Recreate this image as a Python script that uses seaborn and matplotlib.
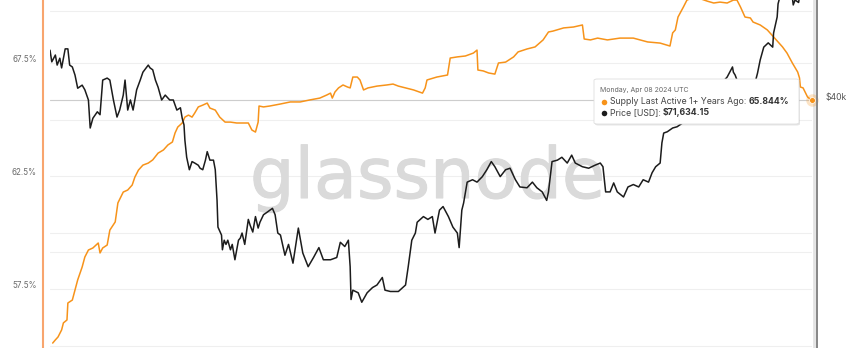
import numpy as np
import pandas as pd
import matplotlib
matplotlib.use("Agg")
import matplotlib.pyplot as plt
import matplotlib.transforms as mtransforms
import matplotlib.patheffects as pe
from matplotlib.patches import FancyBboxPatch
from matplotlib.lines import Line2D
from matplotlib.text import Annotation
import seaborn as sns

# ---------------- data ----------------
start_date = "2021-12-07"

price_days = [0, 2, 6, 8, 11, 13, 17, 20, 22, 25,
              28, 31, 36, 39, 43, 45, 48, 53, 56, 59,
              64, 67, 71, 75, 78, 82, 84, 87, 90, 93,
              97, 101, 104, 110, 112, 115, 118, 121, 125, 129,
              134, 138, 142, 146, 148, 150, 151, 153, 156, 159,
              162, 166, 168, 171, 174, 176, 179, 183, 185, 187,
              188, 192, 193, 195, 197, 199, 202, 204, 207, 211,
              213, 215, 218, 222, 224, 227, 230, 233, 235, 239,
              242, 249, 252, 255, 258, 263, 267, 272, 278, 283,
              289, 295, 301, 306, 314, 321, 325, 330, 334, 336,
              337, 339, 345, 349, 355, 361, 366, 372, 375, 381,
              390, 398, 401, 405, 409, 411, 418, 423, 428, 431,
              436, 440, 446, 451, 456, 458, 461, 463, 467, 473,
              478, 484, 489, 494, 498, 504, 510, 515, 521, 526,
              534, 540, 545, 551, 556, 558, 562, 568, 573, 579,
              584, 588, 596, 603, 610, 616, 619, 622, 627, 631,
              635, 642, 647, 653, 659, 664, 670, 674, 678, 683,
              685, 687, 691, 697, 702, 708, 717, 728, 739, 748,
              755, 758, 764, 765, 767, 773, 778, 784, 790, 792,
              795, 799, 804, 809, 810, 814, 815, 819, 823, 828,
              832, 834, 838, 841, 846, 853]

price_k = [50.2, 47.6, 49.1, 46.9, 48.4, 46.3, 50.5, 50.5, 46.9, 46.5,
           44.8, 42.2, 42.8, 41.9, 40.0, 35.2, 36.8, 37.9, 37.4, 43.8,
           44.2, 43.8, 40.0, 37.0, 38.2, 40.9, 43.8, 38.2, 40.0, 38.2,
           41.9, 43.8, 45.4, 46.9, 46.3, 45.9, 43.8, 42.4, 40.0, 40.9,
           40.0, 40.0, 38.2, 38.6, 36.8, 35.7, 33.3, 30.8, 29.1, 30.2,
           30.0, 29.7, 29.3, 29.1, 30.4, 31.6, 30.4, 30.4, 29.1, 25.3,
           22.4, 21.6, 20.2, 21.1, 20.7, 21.1, 20.2, 20.7, 19.3, 21.1,
           21.3, 21.8, 20.7, 23.2, 22.6, 21.9, 23.5, 22.3, 22.9, 23.7,
           23.9, 24.4, 23.7, 21.8, 21.6, 19.7, 20.7, 19.0, 22.3, 19.9,
           18.7, 19.5, 20.4, 19.3, 19.3, 19.5, 20.9, 20.5, 21.1, 18.7,
           16.1, 16.8, 16.6, 15.9, 16.6, 17.0, 17.2, 17.8, 16.8, 16.7,
           16.7, 17.2, 18.7, 21.1, 21.8, 22.9, 23.5, 23.2, 23.5, 21.8,
           24.2, 24.6, 23.5, 22.4, 21.8, 20.4, 24.2, 25.0, 27.5, 27.8,
           27.5, 28.2, 29.1, 30.2, 29.5, 28.2, 29.1, 29.3, 27.8, 26.9,
           26.8, 27.5, 26.8, 26.3, 25.3, 26.3, 30.2, 30.4, 30.8, 30.0,
           31.1, 30.0, 29.5, 29.3, 29.7, 30.0, 29.5, 26.3, 26.3, 27.4,
           26.3, 25.7, 26.9, 27.2, 26.9, 27.8, 27.5, 28.7, 29.5, 30.0,
           32.9, 34.4, 34.6, 35.2, 35.4, 36.0, 37.4, 39.1, 40.9, 42.8,
           43.8, 44.4, 46.5, 45.4, 44.8, 41.9, 40.0, 42.2, 43.8, 45.2,
           48.0, 50.9, 51.9, 50.9, 54.3, 58.4, 62.0, 66.0, 69.0, 70.7,
           61.7, 63.1, 62.4, 67.6, 69.0, 71.63415]

supply_days = [3, 6, 9, 13, 15, 19, 20, 25, 28, 31,
               36, 39, 43, 48, 54, 56, 59, 64, 67, 73,
               76, 82, 87, 92, 95, 99, 104, 110, 115, 121,
               127, 132, 137, 140, 143, 148, 151, 155, 159, 162,
               166, 171, 176, 179, 185, 190, 196, 202, 209, 216,
               222, 226, 230, 233, 234, 239, 246, 258, 269, 280,
               291, 302, 310, 314, 316, 319, 323, 328, 333, 336,
               339, 344, 347, 351, 356, 366, 377, 384, 390, 398,
               407, 417, 420, 422, 433, 445, 448, 456, 465, 474,
               478, 479, 485, 491, 498, 502, 510, 519, 524, 534,
               543, 552, 558, 563, 575, 586, 596, 598, 605, 613,
               624, 638, 653, 669, 683, 694, 697, 700, 703, 709,
               713, 722, 736, 743, 750, 758, 765, 769, 773, 778,
               784, 787, 795, 803, 810, 815, 820, 825, 831, 837,
               839, 840, 843, 848, 853]

supply_pct = [55.13, 55.27, 55.40, 55.71, 56.02, 56.15, 56.90, 57.03, 57.47, 57.92,
              58.49, 58.93, 59.24, 59.33, 59.55, 59.11, 59.33, 59.46, 60.12, 60.48,
              61.32, 61.80, 61.89, 62.11, 62.46, 62.77, 62.99, 63.08, 63.22, 63.52,
              63.66, 63.88, 64.01, 64.41, 64.67, 64.85, 65.11, 65.20, 65.11, 65.29,
              65.56, 65.64, 65.73, 65.51, 65.42, 65.11, 64.89, 64.89, 64.85, 64.85,
              64.85, 64.54, 64.45, 64.89, 65.60, 65.56, 65.60, 65.69, 65.78, 65.78,
              65.87, 65.95, 66.09, 66.17, 65.95, 66.22, 66.40, 66.53, 66.44, 66.40,
              66.88, 66.88, 66.75, 66.31, 66.40, 66.48, 66.53, 66.57, 66.48, 66.40,
              66.31, 66.17, 66.40, 66.75, 66.88, 66.97, 67.72, 67.77, 67.81, 67.94,
              68.07, 67.19, 67.15, 67.06, 67.01, 67.50, 67.54, 67.77, 67.99, 68.12,
              68.21, 68.52, 68.87, 68.91, 69.05, 69.09, 69.18, 68.56, 68.52, 68.60,
              68.52, 68.60, 68.60, 68.43, 68.38, 68.25, 68.83, 68.96, 69.53, 69.97,
              70.28, 70.42, 70.23, 70.15, 70.19, 70.15, 70.28, 70.28, 69.97, 69.53,
              69.49, 69.31, 69.18, 68.96, 68.65, 68.43, 68.21, 67.94, 67.50, 67.10,
              66.84, 66.44, 66.40, 66.00, 65.844]

left_ticks = [55.0, 57.5, 60.0, 62.5, 65.0, 67.5]
left_labels = ["", "57.5%", "", "62.5%", "", "67.5%"]
right_ticks = [20000, 40000, 60000]
right_labels = ["", "$40k", ""]

tooltip_date = "Monday, Apr 08 2024 UTC"
tooltip_s1 = "Supply Last Active 1+ Years Ago: "
tooltip_v1 = "65.844%"
tooltip_s2 = "Price [USD]: "
tooltip_v2 = "$71,634.15"
hover_value = 65.844

# ---------------- frames ----------------
t0 = pd.Timestamp(start_date)
price_df = pd.DataFrame({"date": t0 + pd.to_timedelta(price_days, unit="D"),
                         "price": np.array(price_k) * 1000})
supply_df = pd.DataFrame({"date": t0 + pd.to_timedelta(supply_days, unit="D"),
                          "supply": supply_pct})
end_date = price_df["date"].iloc[-1]

ORANGE = "#f7931a"
BLACK = "#1c1c1c"

sns.set_theme(style="white")
plt.rcParams["font.family"] = ["Inter", "DejaVu Sans"]

W, H = 857, 348
fig = plt.figure(figsize=(W / 100, H / 100), dpi=100)
ax = fig.add_axes([50 / W, 0, 762 / W, 1])
ax2 = ax.twinx()

sns.lineplot(data=supply_df, x="date", y="supply", ax=ax, color=ORANGE,
             linewidth=1.1, legend=False, zorder=3)
sns.lineplot(data=price_df, x="date", y="price", ax=ax2, color=BLACK,
             linewidth=1.1, legend=False, zorder=3)

ax.set_xlim(t0, end_date)
ax.set_ylim(54.912, 70.283)
ax2.set_yscale("log")
ax2.set_ylim(12905, 63108)

# grids
ax.set_yticks(left_ticks)
ax.set_yticklabels(left_labels)
ax.grid(axis="y", color="#efefef", linewidth=0.8, zorder=0)
ax.grid(axis="x", visible=False)
ax2.grid(False)
blend = mtransforms.blended_transform_factory(ax.transAxes, ax2.transData)
for v in right_ticks:
    ax.plot([0, 1], [v, v], transform=blend, color="#efefef", linewidth=0.8, zorder=0.5)

ax2.yaxis.set_major_locator(matplotlib.ticker.FixedLocator(right_ticks))
ax2.yaxis.set_minor_locator(matplotlib.ticker.NullLocator())
ax2.yaxis.set_minor_formatter(matplotlib.ticker.NullFormatter())
ax2.set_yticklabels(right_labels)

for a in (ax, ax2):
    a.set_xlabel("")
    a.set_ylabel("")
    a.set_xticks([])
    a.tick_params(axis="y", length=0)
    for s in ("top", "bottom"):
        a.spines[s].set_visible(False)

ax.spines["right"].set_visible(False)
ax2.spines["left"].set_visible(False)
ax.spines["left"].set_position(("outward", 5.0))
ax.spines["left"].set_color("#f8a56e")
ax.spines["left"].set_linewidth(1.5)
ax2.spines["right"].set_position(("outward", 3.9))
ax2.spines["right"].set_color("#7d7d7d")
ax2.spines["right"].set_linewidth(1.3)

ax.tick_params(axis="y", labelsize=5.8, labelcolor="#6b6b6b", pad=4.5)
ax2.tick_params(axis="y", labelsize=6.2, labelcolor="#555555", pad=5.5)
up_l = mtransforms.ScaledTranslation(0, 4.5 / 100, fig.dpi_scale_trans)
for lab in ax.get_yticklabels():
    lab.set_transform(lab.get_transform() + up_l)
up_r = mtransforms.ScaledTranslation(0, 3.0 / 100, fig.dpi_scale_trans)
for lab in ax2.get_yticklabels():
    lab.set_transform(lab.get_transform() + up_r)

# watermark
ax.text(250 / W, 1 - 198 / H, "glassnode", transform=fig.transFigure,
        fontsize=50.5, color="#dadada", family="DejaVu Sans",
        ha="left", va="baseline", zorder=0.6,
        path_effects=[pe.withStroke(linewidth=0.8, foreground="#dadada")])

# crosshair
ax.axhline(hover_value, color="#cdcdcd", linewidth=0.8, zorder=1)
vshift = mtransforms.ScaledTranslation(1.5 / 100, 0, fig.dpi_scale_trans)
ax.plot([end_date, end_date], [0, 1], color="#e3e3e3", linewidth=2.0, zorder=1,
        transform=ax.get_xaxis_transform() + vshift, clip_on=False)
ax.plot([end_date], [hover_value], marker="o", markersize=9, color=ORANGE,
        alpha=0.25, markeredgewidth=0, zorder=4, clip_on=False)
ax.plot([end_date], [hover_value], marker="o", markersize=4.2, color=ORANGE,
        markeredgecolor="white", markeredgewidth=0.5, zorder=5, clip_on=False)

# tooltip
def fx(px):
    return px / W

def fy(py):
    return 1 - py / H

bx0, by0, bx1, by1 = 594, 79, 799, 124
shadow = FancyBboxPatch((fx(bx0 + 1), fy(by1 + 1.5)), fx(bx1 - bx0), (by1 - by0) / H,
                        boxstyle="round,pad=0,rounding_size=0.004",
                        transform=fig.transFigure, facecolor="#000000", alpha=0.10,
                        edgecolor="none", zorder=10)
fig.add_artist(shadow)
box = FancyBboxPatch((fx(bx0), fy(by1)), fx(bx1 - bx0), (by1 - by0) / H,
                     boxstyle="round,pad=0,rounding_size=0.004",
                     transform=fig.transFigure, facecolor="white",
                     edgecolor="#dedede", linewidth=0.6, zorder=11)
fig.add_artist(box)

fig.text(fx(600), fy(90), tooltip_date, fontsize=5.0, color="#666666",
         ha="left", va="center", zorder=12)
fig.add_artist(Line2D([fx(603.5)], [fy(101.5)], marker="o", markersize=4, color=ORANGE,
                      markeredgewidth=0, transform=fig.transFigure, zorder=12))
fig.add_artist(Line2D([fx(603.5)], [fy(112.5)], marker="o", markersize=4, color=BLACK,
                      markeredgewidth=0, transform=fig.transFigure, zorder=12))
t1 = fig.text(fx(609.5), fy(101.5), tooltip_s1, fontsize=6.3, color="#444444",
              ha="left", va="center", zorder=12)
t2 = fig.text(fx(609.5), fy(112.5), tooltip_s2, fontsize=6.3, color="#444444",
              ha="left", va="center", zorder=12)
for tt, val in ((t1, tooltip_v1), (t2, tooltip_v2)):
    an = Annotation(val, xy=(1, 0.5), xycoords=tt, xytext=(0, 0),
                    textcoords="offset points", ha="left", va="center",
                    fontsize=6.3, fontweight="bold", color="#333333", zorder=12)
    fig.add_artist(an)

fig.savefig("out.png", dpi=100, facecolor="white")
